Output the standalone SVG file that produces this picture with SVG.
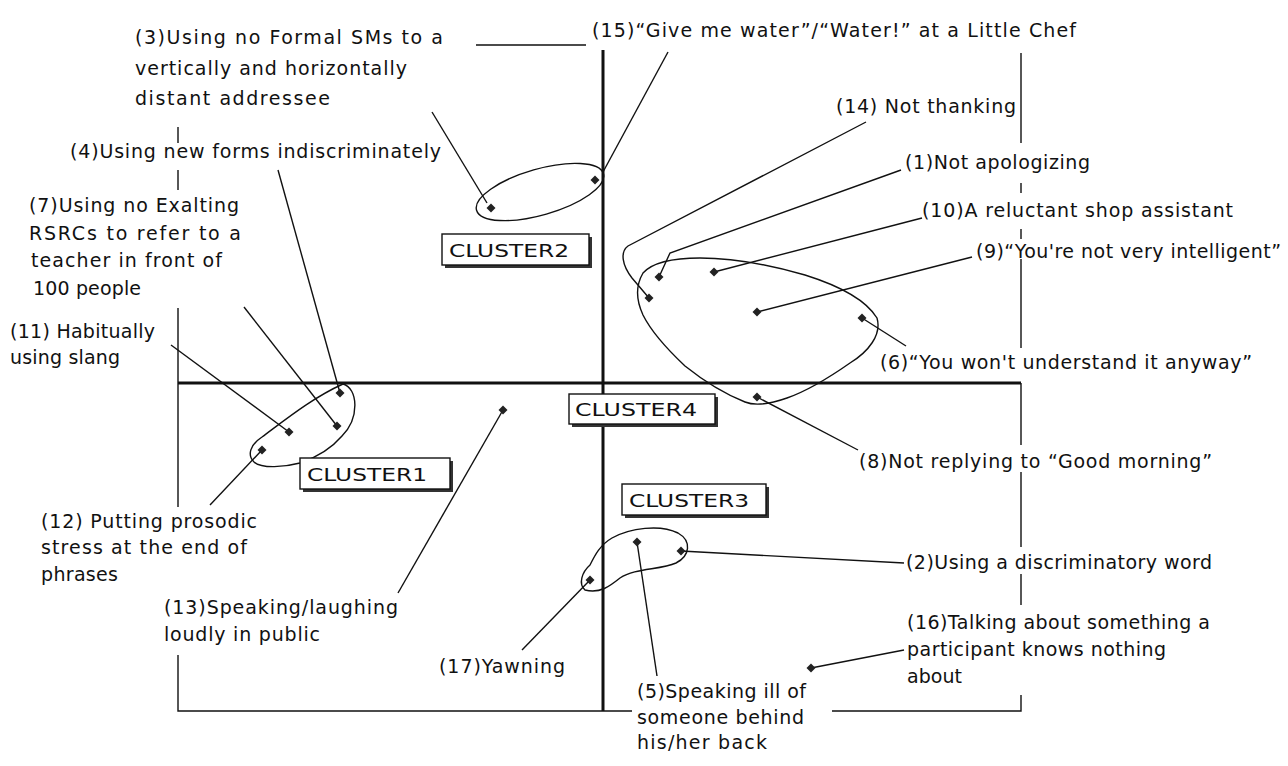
<svg xmlns="http://www.w3.org/2000/svg" width="1288" height="766" viewBox="0 0 1288 766">
<style>
text{font-family:"DejaVu Sans","Liberation Sans",sans-serif;font-size:19px;fill:#111}
.cl{font-size:18px}
.frame{stroke:#111;stroke-width:1.4;fill:none}
.axis{stroke:#111;stroke-width:3;fill:none}
.lead{stroke:#111;stroke-width:1.4;fill:none}
.out{stroke:#111;stroke-width:1.4;fill:none}
.box{fill:#fff;stroke:#111;stroke-width:1.4}
.sh{fill:#333}
.pt{fill:#222}
</style>
<defs>
<path id="d" d="M0,-4.5 L4.5,0 L0,4.5 L-4.5,0 Z"/>
</defs>
<rect width="1288" height="766" fill="#fff"/>
<g id="frame">
<path class="frame" d="M476,45 H586 M178,127 V143 M178,170 V190 M178,308 V507 M178,655 V711 H632 M832,711 H1021 V695 M1021,605 V574 M1021,547 V472 M1021,445 V383 M1021,348 V259 M1021,239 V229 M1021,193 V183 M1021,143 V53"/>
<path class="axis" d="M603,50 V711 M178,383 H1021"/>
</g>
<g id="cluster-outlines">
<ellipse class="out" cx="540" cy="192" rx="66" ry="23" transform="rotate(-16 540 192)"/>
<path class="out" d="M643,273 C652,263 672,258 700,258 C730,258 770,265 805,275 C840,286 866,300 877,318 C882,335 868,352 850,363 C830,377 810,390 787,398 C770,404 755,406 745,402 C725,394 705,382 685,366 C668,350 652,333 643,315 C636,300 636,285 643,273 Z"/>
<path class="out" d="M343,384 C358,388 360,418 342,436 C330,450 315,458 300,463 C285,467 262,469 254,462 C247,455 250,445 262,437 C285,420 312,398 343,384 Z"/>
<path class="out" d="M585,590 C578,584 582,572 590,565 C595,555 600,545 612,538 C630,528 660,524 678,533 C692,541 690,556 676,563 C660,570 635,568 620,578 C610,586 600,594 585,590 Z"/>
</g>
<g id="connectors">
<path class="lead" d="M432,112 L487,203"/>
<path class="lead" d="M668,52 L603,172"/>
<path class="lead" d="M866,122 L628,246 C620,252 622,265 632,278 L649,298"/>
<path class="lead" d="M901,170 L670,253 L659,277"/>
<path class="lead" d="M922,218 L714,272"/>
<path class="lead" d="M972,257 L757,312"/>
<path class="lead" d="M862,318 L906,346"/>
<path class="lead" d="M757,397 L858,450"/>
<path class="lead" d="M278,170 L340,393"/>
<path class="lead" d="M244,307 L337,426"/>
<path class="lead" d="M171,345 L289,432"/>
<path class="lead" d="M210,505 L262,450"/>
<path class="lead" d="M503,410 L398,593"/>
<path class="lead" d="M590,580 L522,650"/>
<path class="lead" d="M637,542 L657,676"/>
<path class="lead" d="M681,551 L904,563"/>
<path class="lead" d="M811,668 L904,650"/>
</g>
<g id="cluster1">
<rect class="sh" x="303" y="461" width="150" height="31"/>
<rect class="box" x="300" y="458" width="150" height="31"/>
<text class="cl" x="307" y="481" textLength="120" lengthAdjust="spacingAndGlyphs">CLUSTER1</text>
</g>
<g id="cluster2">
<rect class="sh" x="445" y="237" width="147" height="31"/>
<rect class="box" x="442" y="234" width="147" height="31"/>
<text class="cl" x="449" y="257" textLength="120" lengthAdjust="spacingAndGlyphs">CLUSTER2</text>
</g>
<g id="cluster3">
<rect class="sh" x="625" y="487" width="144" height="31"/>
<rect class="box" x="622" y="484" width="144" height="31"/>
<text class="cl" x="629" y="507" textLength="120" lengthAdjust="spacingAndGlyphs">CLUSTER3</text>
</g>
<g id="cluster4">
<rect class="sh" x="572" y="397" width="146" height="30"/>
<rect class="box" x="569" y="394" width="146" height="30"/>
<text class="cl" x="575" y="416" textLength="122" lengthAdjust="spacingAndGlyphs">CLUSTER4</text>
</g>
<g id="item1"><use href="#d" class="pt" x="659" y="277"/><text x="905" y="169" textLength="185" lengthAdjust="spacing">(1)Not apologizing</text></g>
<g id="item2"><use href="#d" class="pt" x="681" y="551"/><text x="906" y="569" textLength="306" lengthAdjust="spacing">(2)Using a discriminatory word</text></g>
<g id="item3"><use href="#d" class="pt" x="491" y="208"/>
<text x="135" y="44" textLength="308" lengthAdjust="spacing">(3)Using no Formal SMs to a</text>
<text x="135" y="75" textLength="272" lengthAdjust="spacing">vertically and horizontally</text>
<text x="135" y="105" textLength="195" lengthAdjust="spacing">distant addressee</text></g>
<g id="item4"><use href="#d" class="pt" x="340" y="393"/><text x="70" y="158" textLength="371" lengthAdjust="spacing">(4)Using new forms indiscriminately</text></g>
<g id="item5"><use href="#d" class="pt" x="637" y="542"/>
<text x="637" y="698" textLength="169" lengthAdjust="spacing">(5)Speaking ill of</text>
<text x="637" y="724" textLength="167" lengthAdjust="spacing">someone behind</text>
<text x="637" y="749" textLength="130" lengthAdjust="spacing">his/her back</text></g>
<g id="item6"><use href="#d" class="pt" x="862" y="318"/><text x="880" y="369" textLength="372" lengthAdjust="spacing">(6)“You won't understand it anyway”</text></g>
<g id="item7"><use href="#d" class="pt" x="337" y="426"/>
<text x="29" y="212" textLength="210" lengthAdjust="spacing">(7)Using no Exalting</text>
<text x="29" y="240" textLength="212" lengthAdjust="spacing">RSRCs to refer to a</text>
<text x="31" y="267" textLength="191" lengthAdjust="spacing">teacher in front of</text>
<text x="33" y="295" textLength="108" lengthAdjust="spacing">100 people</text></g>
<g id="item8"><use href="#d" class="pt" x="757" y="397"/><text x="859" y="468" textLength="353" lengthAdjust="spacing">(8)Not replying to “Good morning”</text></g>
<g id="item9"><use href="#d" class="pt" x="757" y="312"/><text x="976" y="258" textLength="305" lengthAdjust="spacing">(9)“You're not very intelligent”</text></g>
<g id="item10"><use href="#d" class="pt" x="714" y="272"/><text x="922" y="217" textLength="311" lengthAdjust="spacing">(10)A reluctant shop assistant</text></g>
<g id="item11"><use href="#d" class="pt" x="289" y="432"/>
<text x="10" y="338" textLength="145" lengthAdjust="spacing">(11) Habitually</text>
<text x="10" y="364" textLength="110" lengthAdjust="spacing">using slang</text></g>
<g id="item12"><use href="#d" class="pt" x="262" y="450"/>
<text x="41" y="528" textLength="216" lengthAdjust="spacing">(12) Putting prosodic</text>
<text x="41" y="554" textLength="206" lengthAdjust="spacing">stress at the end of</text>
<text x="41" y="581" textLength="77" lengthAdjust="spacing">phrases</text></g>
<g id="item13"><use href="#d" class="pt" x="503" y="410"/>
<text x="164" y="614" textLength="234" lengthAdjust="spacing">(13)Speaking/laughing</text>
<text x="164" y="641" textLength="156" lengthAdjust="spacing">loudly in public</text></g>
<g id="item14"><use href="#d" class="pt" x="649" y="298"/><text x="836" y="113" textLength="180" lengthAdjust="spacing">(14) Not thanking</text></g>
<g id="item15"><use href="#d" class="pt" x="595" y="180"/><text x="592" y="37" textLength="484" lengthAdjust="spacing">(15)“Give me water”/“Water!” at a Little Chef</text></g>
<g id="item16"><use href="#d" class="pt" x="811" y="668"/>
<text x="907" y="629" textLength="303" lengthAdjust="spacing">(16)Talking about something a</text>
<text x="907" y="656" textLength="259" lengthAdjust="spacing">participant knows nothing</text>
<text x="907" y="683" textLength="55" lengthAdjust="spacing">about</text></g>
<g id="item17"><use href="#d" class="pt" x="590" y="580"/><text x="439" y="673" textLength="126" lengthAdjust="spacing">(17)Yawning</text></g>
</svg>
